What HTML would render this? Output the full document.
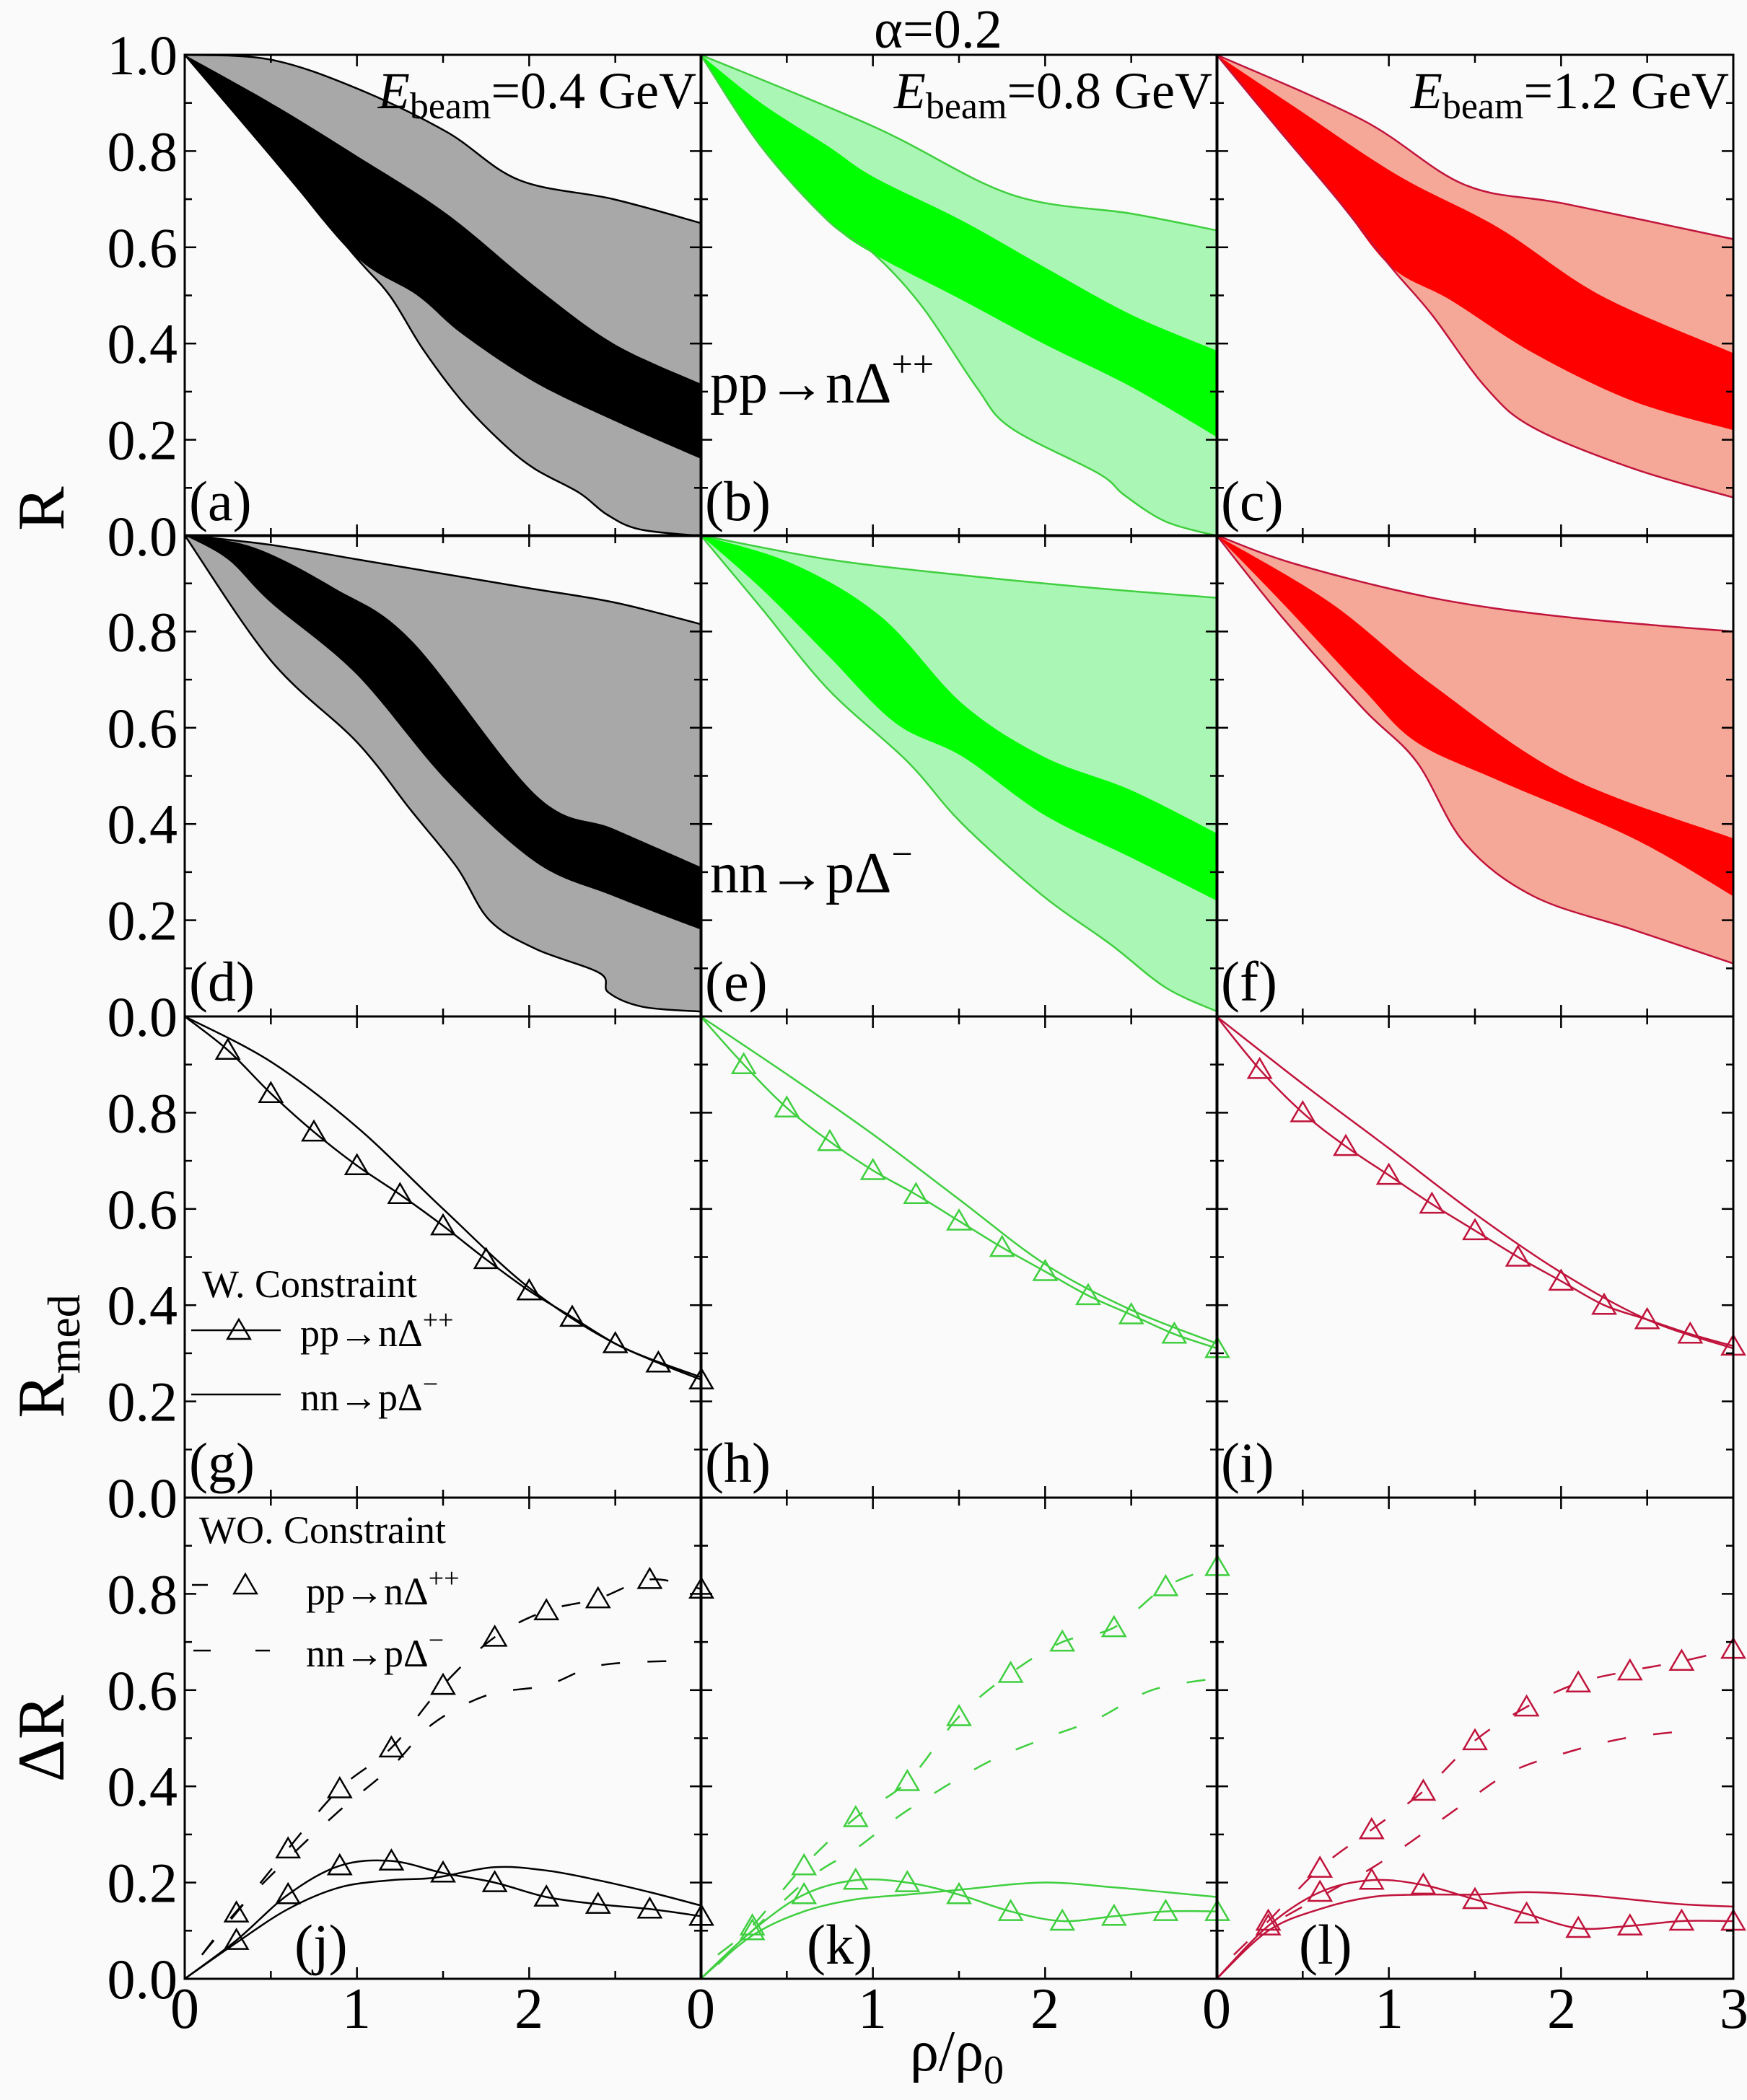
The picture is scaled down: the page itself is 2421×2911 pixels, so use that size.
<!DOCTYPE html>
<html><head><meta charset="utf-8"><style>
html,body{margin:0;padding:0;background:#fafafa;}
svg, svg text{font-family:"Liberation Serif","Times New Roman",serif;}
</style></head><body>
<svg id="s" width="2421" height="2906" viewBox="0 0 2421 2906" xmlns="http://www.w3.org/2000/svg">
<rect width="2421" height="2906" fill="#fafafa"/>
<g id="plots"></g>
<g style="font-family:'Liberation Serif',serif" fill="#000">
<text x="1300" y="66" font-size="76" text-anchor="middle">α=0.2</text>
<text x="965" y="150" font-size="72" text-anchor="end"><tspan font-style="italic">E</tspan><tspan font-size="52" dy="14">beam</tspan><tspan dy="-14">=0.4 GeV</tspan></text>
<text x="1680" y="150" font-size="72" text-anchor="end"><tspan font-style="italic">E</tspan><tspan font-size="52" dy="14">beam</tspan><tspan dy="-14">=0.8 GeV</tspan></text>
<text x="2396" y="150" font-size="72" text-anchor="end"><tspan font-style="italic">E</tspan><tspan font-size="52" dy="14">beam</tspan><tspan dy="-14">=1.2 GeV</tspan></text>
<text x="984" y="558" font-size="80">pp→nΔ<tspan font-size="52" dy="-36">++</tspan></text>
<text x="984" y="1237" font-size="80">nn→pΔ<tspan font-size="52" dy="-36">−</tspan></text>
<text transform="translate(88,705) rotate(-90)" font-size="92" text-anchor="middle">R</text>
<text transform="translate(88,1880) rotate(-90)" font-size="92" text-anchor="middle">R<tspan font-size="64" dy="22">med</tspan></text>
<text transform="translate(88,2410) rotate(-90)" font-size="92" text-anchor="middle">ΔR</text>
<text x="1326" y="2870" font-size="80" text-anchor="middle">ρ/ρ<tspan font-size="56" dy="18">0</tspan></text>
<text x="280" y="1798" font-size="54">W. Constraint</text>
<text x="416" y="1866" font-size="54">pp→nΔ<tspan font-size="38" dy="-24">++</tspan></text>
<text x="416" y="1955" font-size="54">nn→pΔ<tspan font-size="38" dy="-24">−</tspan></text>
<text x="276" y="2139" font-size="54">WO. Constraint</text>
<text x="424" y="2224" font-size="54">pp→nΔ<tspan font-size="38" dy="-24">++</tspan></text>
<text x="424" y="2310" font-size="54">nn→pΔ<tspan font-size="38" dy="-24">−</tspan></text>
</g>
</svg>
<script>
(function(){
var NS="http://www.w3.org/2000/svg";
var G=document.getElementById('plots');
var XS=[256,971,1686], W=716, YT=[76,742,1409,2076], H=667;
function el(t,a,p){var e=document.createElementNS(NS,t);for(var k in a)e.setAttribute(k,a[k]);(p||G).appendChild(e);return e;}
function px(c,x){return XS[c]+x*W/3;}
function py(r,y){return YT[r]+H-y*H;}
function pts(c,r,d){return d.map(function(p){return [px(c,p[0]),py(r,p[1])];});}
function smooth(P){
  var s="M"+P[0][0].toFixed(1)+","+P[0][1].toFixed(1);
  for(var i=0;i<P.length-1;i++){
    var p0=P[i-1]||P[i],p1=P[i],p2=P[i+1],p3=P[i+2]||p2;
    var c1=[p1[0]+(p2[0]-p0[0])/6,p1[1]+(p2[1]-p0[1])/6];
    var c2=[p2[0]-(p3[0]-p1[0])/6,p2[1]-(p3[1]-p1[1])/6];
    s+="C"+c1[0].toFixed(1)+","+c1[1].toFixed(1)+" "+c2[0].toFixed(1)+","+c2[1].toFixed(1)+" "+p2[0].toFixed(1)+","+p2[1].toFixed(1);
  }
  return s;
}
function band(c,r,up,lo,fill){
  var a=smooth(pts(c,r,up));
  var L=pts(c,r,lo).reverse();
  var b=smooth(L).replace(/^M/,"L");
  el('path',{d:a+b+"Z",fill:fill,stroke:'none'});
}
function line(c,r,d,col,w,dash){
  var a={d:smooth(pts(c,r,d)),fill:'none',stroke:col,'stroke-width':w||2.5};
  if(dash)a['stroke-dasharray']=dash;
  el('path',a);
}
function tri(x,y,col){
  var s=15;
  el('path',{d:"M"+x+","+(y-s)+"L"+(x+s*1.05)+","+(y+s*0.8)+"L"+(x-s*1.05)+","+(y+s*0.8)+"Z",fill:'none',stroke:col,'stroke-width':2.5});
}
function tris(c,r,d,col){d.forEach(function(p){tri(px(c,p[0]),py(r,p[1]),col);});}

var GR='#a8a8a8',LG='#aaf6b4',DG='#00ff00',LR='#f6a898',DR='#ff0000',GL='#3fcf3f',RL='#c0143c';
var P={
a:{lu:[[0,1],[0.5,0.99],[1,0.93],[1.52,0.84],[1.94,0.74],[2.49,0.70],[3,0.65]],
   ll:[[0,1],[0.5,0.79],[0.98,0.585],[1.19,0.5],[1.38,0.39],[1.61,0.28],[1.84,0.195],[2.03,0.14],[2.29,0.09],[2.45,0.045],[2.64,0.014],[3,0.0]],
   du:[[0,1],[0.5,0.9],[1,0.79],[1.52,0.67],[2.03,0.52],[2.49,0.40],[3,0.316]],
   dl:[[0,1],[0.5,0.79],[0.98,0.585],[1.35,0.50],[1.61,0.42],[2.03,0.32],[2.49,0.24],[3,0.16]]},
b:{lu:[[0,1],[1.01,0.85],[1.8,0.71],[2.5,0.67],[3,0.635]],
   ll:[[0,1],[0.35,0.81],[0.74,0.655],[1.01,0.585],[1.29,0.475],[1.6,0.31],[1.8,0.225],[2.31,0.13],[2.46,0.085],[2.7,0.03],[3,0.0]],
   du:[[0,1],[0.35,0.9],[0.74,0.81],[1.01,0.745],[1.52,0.655],[1.99,0.56],[2.5,0.46],[3,0.385]],
   dl:[[0,1],[0.35,0.81],[0.74,0.655],[1.01,0.585],[1.52,0.49],[1.99,0.40],[2.5,0.31],[3,0.205]]},
c:{lu:[[0,1],[0.85,0.864],[1.44,0.73],[2.03,0.69],[3,0.617]],
   ll:[[0,1],[0.38,0.836],[0.7,0.7],[1.01,0.56],[1.25,0.46],[1.56,0.31],[1.84,0.225],[2.42,0.14],[3,0.08]],
   du:[[0,1],[0.46,0.89],[1.05,0.75],[1.64,0.64],[2.23,0.5],[3,0.38]],
   dl:[[0,1],[0.38,0.836],[0.7,0.7],[1.01,0.56],[1.36,0.49],[1.84,0.38],[2.42,0.28],[3,0.22]]},
d:{lu:[[0,1],[0.5,0.98],[1,0.95],[1.5,0.92],[2,0.89],[2.5,0.86],[3,0.815]],
   ll:[[0,1],[0.5,0.74],[1,0.57],[1.31,0.43],[1.58,0.31],[1.77,0.2],[2.04,0.14],[2.41,0.09],[2.46,0.05],[2.66,0.02],[3,0.01]],
   du:[[0,1],[0.4,0.975],[0.87,0.89],[1.32,0.78],[2.04,0.46],[2.49,0.39],[3,0.31]],
   dl:[[0,1],[0.25,0.95],[0.5,0.86],[1.0,0.71],[1.52,0.49],[2.04,0.32],[2.49,0.25],[3,0.18]]},
e:{lu:[[0,1],[0.74,0.95],[1.52,0.917],[2.3,0.89],[3,0.87]],
   ll:[[0,1],[0.35,0.85],[0.74,0.68],[1.2,0.53],[1.52,0.4],[1.99,0.25],[2.38,0.15],[2.7,0.06],[3,0.01]],
   du:[[0,1],[0.54,0.94],[1.05,0.83],[1.52,0.65],[1.99,0.54],[2.5,0.47],[3,0.38]],
   dl:[[0,1],[0.35,0.89],[0.74,0.75],[1.13,0.61],[1.52,0.54],[1.99,0.42],[2.5,0.33],[3,0.24]]},
f:{lu:[[0,1],[0.46,0.94],[1.25,0.87],[2.03,0.83],[3,0.8]],
   ll:[[0,1],[0.38,0.83],[0.85,0.64],[1.16,0.53],[1.44,0.36],[1.84,0.25],[2.42,0.18],[3,0.11]],
   du:[[0,1],[0.66,0.86],[1.25,0.69],[2.03,0.5],[3,0.37]],
   dl:[[0,1],[0.38,0.86],[0.85,0.68],[1.16,0.57],[1.64,0.49],[2.42,0.37],[3,0.25]]}
};
var cfg=[['a',0,0,GR,'#000','#000'],['b',1,0,LG,DG,GL],['c',2,0,LR,DR,RL],['d',0,1,GR,'#000','#000'],['e',1,1,LG,DG,GL],['f',2,1,LR,DR,RL]];
cfg.forEach(function(q){var p=P[q[0]];band(q[1],q[2],p.lu,p.ll,q[3]);band(q[1],q[2],p.du,p.dl,q[4]);line(q[1],q[2],p.lu,q[5],2.5);line(q[1],q[2],p.ll,q[5],2.5);});

var xs=[0,0.25,0.5,0.75,1,1.25,1.5,1.75,2,2.25,2.5,2.75,3];
function mk(v){return xs.map(function(x,i){return [x,v[i]];});}
var gp=mk([1,0.93,0.84,0.76,0.69,0.63,0.565,0.495,0.43,0.375,0.32,0.28,0.245]);
var gn=[[0,1],[0.5,0.906],[1,0.77],[1.5,0.6],[2,0.436],[2.5,0.32],[3,0.25]];
var hp=mk([1,0.90,0.81,0.74,0.68,0.63,0.575,0.52,0.47,0.42,0.38,0.34,0.31]);
var hn=[[0,1],[0.5,0.88],[1,0.755],[1.5,0.62],[2,0.485],[2.5,0.39],[3,0.32]];
var ip=mk([1,0.89,0.80,0.73,0.67,0.61,0.555,0.50,0.45,0.40,0.37,0.34,0.315]);
var inn=[[0,1],[0.5,0.86],[1,0.726],[1.5,0.59],[2,0.468],[2.5,0.37],[3,0.31]];
[[0,gp,gn,'#000'],[1,hp,hn,GL],[2,ip,inn,RL]].forEach(function(q){
  line(q[0],2,q[1],q[3],2.5);line(q[0],2,q[2],q[3],2.5);tris(q[0],2,q[1].slice(1),q[3]);
});

var x3=[0.3,0.6,0.9,1.2,1.5,1.8,2.1,2.4,2.7,3];
function m3(v){return x3.map(function(x,i){return [x,v[i]];});}
var R=[
 {c:0,col:'#000',dp:m3([0.137,0.27,0.395,0.48,0.61,0.71,0.765,0.79,0.83,0.81]),
  dn:[[0.1,0.05],[0.3,0.14],[0.6,0.25],[0.9,0.35],[1.2,0.44],[1.44,0.53],[1.76,0.59],[2.1,0.61],[2.39,0.65],[2.78,0.66],[2.9,0.655]],
  sp:m3([0.08,0.175,0.235,0.245,0.22,0.2,0.17,0.155,0.145,0.13]),
  sn:[[0,0],[0.3,0.075],[0.6,0.145],[0.9,0.19],[1.2,0.205],[1.45,0.21],[1.8,0.232],[2.1,0.225],[2.4,0.205],[2.7,0.18],[3,0.152]]},
 {c:1,col:GL,dp:m3([0.11,0.235,0.335,0.41,0.545,0.635,0.70,0.73,0.815,0.857]),
  dn:[[0.1,0.03],[0.6,0.2],[0.9,0.27],[1.2,0.35],[1.65,0.447],[2.0,0.5],[2.3,0.54],[2.62,0.6],[3,0.625]],
  sp:m3([0.10,0.175,0.205,0.20,0.175,0.14,0.12,0.13,0.14,0.14]),
  sn:[[0,0],[0.3,0.09],[0.6,0.14],[0.9,0.165],[1.2,0.175],[1.5,0.185],[1.98,0.2],[2.4,0.19],[2.7,0.18],[3,0.17]]},
 {c:2,col:RL,dp:m3([0.12,0.23,0.31,0.39,0.495,0.565,0.615,0.64,0.66,0.685]),
  dn:[[0.4,0.13],[0.7,0.19],[0.9,0.23],[1.11,0.28],[1.42,0.36],[1.71,0.43],[2.03,0.47],[2.37,0.5],[2.72,0.515]],
  sp:m3([0.11,0.18,0.205,0.195,0.165,0.135,0.105,0.11,0.12,0.12]),
  sn:[[0,0],[0.3,0.1],[0.6,0.145],[0.9,0.17],[1.2,0.175],[1.5,0.175],[1.8,0.18],[2.1,0.175],[2.4,0.165],[2.7,0.155],[3,0.15]]}
];
R.forEach(function(q){
  line(q.c,3,[[0.1,0.05]].concat(q.dp),q.col,2.5,'26 38');
  line(q.c,3,q.dn,q.col,2.5,'26 38');
  line(q.c,3,[[0,0]].concat(q.sp),q.col,2.5);
  line(q.c,3,q.sn,q.col,2.5);
  tris(q.c,3,q.dp,q.col);tris(q.c,3,q.sp,q.col);
});

el('line',{x1:265,y1:1844,x2:389,y2:1844,stroke:'#000','stroke-width':2.5});tri(331,1844,'#000');
el('line',{x1:265,y1:1933,x2:389,y2:1933,stroke:'#000','stroke-width':2.5});
el('line',{x1:266,y1:2197,x2:288,y2:2197,stroke:'#000','stroke-width':2.5});tri(340,2197,'#000');
el('line',{x1:268,y1:2288,x2:292,y2:2288,stroke:'#000','stroke-width':2.5});
el('line',{x1:354,y1:2288,x2:374,y2:2288,stroke:'#000','stroke-width':2.5});

var T=document.createElementNS(NS,'g');G.appendChild(T);
for(var c=0;c<3;c++)for(var r=0;r<4;r++){
  var x0=XS[c],y0=YT[r],x1=x0+W,y1=y0+H;
  el('rect',{x:x0,y:y0,width:W,height:H,fill:'none',stroke:'#000','stroke-width':3},T);
  for(var k=1;k<6;k++){var xx=x0+k*W/6,len=(k%2==0)?16:11;
    el('line',{x1:xx,y1:y0,x2:xx,y2:y0+len,stroke:'#000','stroke-width':2.5},T);
    el('line',{x1:xx,y1:y1,x2:xx,y2:y1-len,stroke:'#000','stroke-width':2.5},T);}
  for(var k=1;k<10;k++){var yy=y0+k*H/10,len=(k%2==0)?16:10;
    el('line',{x1:x0,y1:yy,x2:x0+len,y2:yy,stroke:'#000','stroke-width':2.5},T);
    el('line',{x1:x1,y1:yy,x2:x1-len,y2:yy,stroke:'#000','stroke-width':2.5},T);}
}
function txt(x,y,s,size,anchor){var t=el('text',{x:x,y:y,'font-size':size,'text-anchor':anchor||'start',style:"font-family:'Liberation Serif',serif"});t.textContent=s;return t;}
for(var r=0;r<4;r++){
  var labs=['0.0','0.2','0.4','0.6','0.8','1.0'];
  for(var i=0;i<6;i++){ if(i==5&&r>0)continue;
    txt(246,YT[r]+H-i*H/5+27,labs[i],78,'end');}
}
var xl=[['0',256],['1',494],['2',733],['0',971],['1',1209],['2',1448],['0',1686],['1',1925],['2',2164],['3',2403]];
xl.forEach(function(a){txt(a[1],2811,a[0],80,'middle');});
var pl=['(a)','(b)','(c)','(d)','(e)','(f)','(g)','(h)','(i)'];
for(var i=0;i<9;i++){txt(XS[i%3]+6,YT[Math.floor(i/3)]+H-22,pl[i],78);}
txt(408,2722,'(j)',78);txt(1118,2722,'(k)',78);txt(1800,2722,'(l)',78);
})();
</script>
</body></html>
